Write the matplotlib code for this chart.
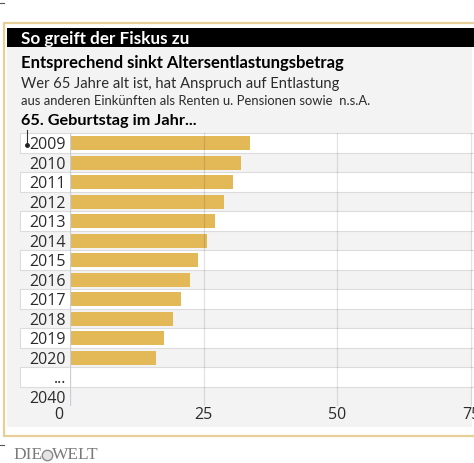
import numpy as np
from matplotlib import pyplot as plt
from matplotlib.patches import Rectangle
from matplotlib.lines import Line2D
import matplotlib.transforms as mtransforms

# data
years = ['2009', '2010', '2011', '2012', '2013', '2014', '2015', '2016',
		 '2017', '2018', '2019', '2020', '...', '2040']
values = [33.6, 32.0, 30.4, 28.8, 27.2, 25.6, 24.0, 22.4,
		  20.8, 19.2, 17.6, 16.0, np.nan, 0.0]
xticks = [0, 25, 50, 75]

W, H = 474, 463
GOLD = '#e3b857'
BORDER = '#e6cf98'
PANEL = '#f3f3f3'
TXT = '#2b2b2b'

plt.rcParams['font.family'] = ['Open Sans', 'DejaVu Sans']

fig = plt.figure(figsize=(W/100, H/100), dpi=100)
fig.patch.set_facecolor('white')
renderer = fig.canvas.get_renderer()

def fx(x):
	return x / W

def fy(y):
	return 1 - y / H

def box(x0, y0, x1, y1, **kw):
	r = Rectangle((fx(x0), fy(y1)), fx(x1) - fx(x0), fy(y0) - fy(y1),
				  transform=fig.transFigure, **kw)
	fig.add_artist(r)
	return r

def fit_text(x0, x1, y, s, size, **kw):
	# shrink/grow font so the text spans x0..x1 pixels
	t = fig.text(fx(x0), fy(y), s, fontsize=size, va='baseline', **kw)
	w = t.get_window_extent(renderer).width
	t.set_fontsize(size * (x1 - x0) / w)
	return t

# frame, panel and title bar
box(4, 23, 480, 436, facecolor='white', edgecolor=BORDER, lw=1.6, zorder=0)
box(6.5, 47, 472, 427, facecolor=PANEL, edgecolor='none', zorder=0)
box(6.5, 28, 480, 47, facecolor='black', edgecolor='none', zorder=0)

fit_text(21, 188, 44, 'So greift der Fiskus zu', 12, color='white', fontweight='bold', family='Lato')
fit_text(21, 343, 68, 'Entsprechend sinkt Altersentlastungsbetrag', 12, color='black',
		 fontweight='bold', family='Lato')
fit_text(21, 336, 88, 'Wer 65 Jahre alt ist, hat Anspruch auf Entlastung', 12, color=TXT, family='Lato')
fit_text(21, 371, 105, 'aus anderen Einkünften als Renten u. Pensionen sowie  n.s.A.', 11,
		 color=TXT, family='Lato')
fit_text(21, 195, 124.5, '65. Geburtstag im Jahr...', 12, color='black', fontweight='bold', family='Lato')

# chart axes
ax_l, ax_r, ax_t, ax_b = 70, 474, 133.3, 406.3
ax = fig.add_axes([fx(ax_l), fy(ax_b), fx(ax_r) - fx(ax_l), fy(ax_t) - fy(ax_b)])
ax.set_facecolor('none')
xmax = 75 * (ax_r - ax_l) / (471 - ax_l)
ax.set_xlim(0, xmax)
ax.set_ylim(len(years) - 0.5, -0.5)

pos = np.arange(len(years))
for i in pos:
	if i % 2 == 0:
		ax.axhspan(i - 0.5, i + 0.5, xmin=-(ax_l - 20) / (ax_r - ax_l), xmax=1,
				   facecolor='white', edgecolor='#dcdcdc', lw=0.8, clip_on=False, zorder=0)

ax.barh(pos, np.nan_to_num(values), height=0.72, color=GOLD, zorder=2)

for t in xticks[1:]:
	ax.axvline(t, color='black', alpha=0.11, lw=0.9, zorder=3)
ax.axvline(0, color='#c9cdd6', lw=0.9, zorder=3)

for s in ax.spines.values():
	s.set_visible(False)

ax.set_yticks(pos)
ax.set_yticklabels(years, fontsize=11.5, color=TXT)
ax.tick_params(axis='y', length=0, pad=3)
ax.set_xticks(xticks)
ax.set_xticklabels([str(t) for t in xticks], fontsize=11.5, color=TXT)
ax.tick_params(axis='x', length=0, pad=0.5)
zero_lab = ax.get_xticklabels()[0]
zero_lab.set_transform(zero_lab.get_transform() +
					   mtransforms.ScaledTranslation(-11/100, 0, fig.dpi_scale_trans))

# small marker by 2009
fig.add_artist(Line2D([fx(26.5), fx(26.5)], [fy(130), fy(144)], color='#333333', lw=0.8,
					  transform=fig.transFigure))
fig.add_artist(Line2D([fx(26.5)], [fy(145)], marker='o', markersize=2.5, color='#222222',
					  transform=fig.transFigure))

# edge marks
fig.add_artist(Line2D([0, fx(4)], [fy(3), fy(3)], color='#555555', lw=0.8, transform=fig.transFigure))
fig.add_artist(Line2D([0, fx(4)], [fy(445), fy(445)], color='#555555', lw=0.8, transform=fig.transFigure))

# logo
fig.text(fx(13), fy(459), 'DIE', family='Liberation Serif', fontsize=12.5, color='#7a7a7a', va='baseline')
fig.add_artist(Line2D([fx(46.5)], [fy(455)], marker='o', markersize=7.5, markerfacecolor='#e4e4e4',
					  markeredgecolor='#8a8a8a', markeredgewidth=1.0, transform=fig.transFigure))
fig.text(fx(52), fy(459), 'WELT', family='Liberation Serif', fontsize=12.5, color='#7a7a7a', va='baseline')

fig.savefig('out.png', dpi=100)
